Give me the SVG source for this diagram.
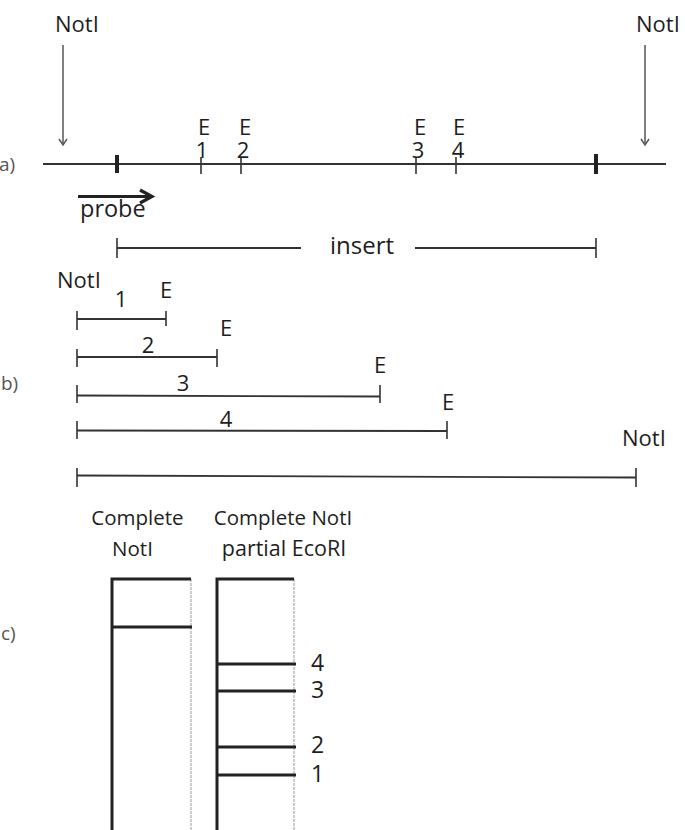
<svg xmlns="http://www.w3.org/2000/svg" width="685" height="830" viewBox="0 0 685 830">
<style>
text{font-family:"Open Sans","Noto Sans",sans-serif;fill:#1e1e1e;font-size:22px}
.lab{fill:#555;font-size:19px}
.c{text-anchor:middle}
.ln{stroke:#333;stroke-width:1.8;fill:none}
.tk{stroke:#333;stroke-width:1.6}
.thk{stroke:#222;stroke-width:4}
.ar{stroke:#555;stroke-width:1.5;fill:none}
.gel{stroke:#222;stroke-width:3;fill:none}
.gelr{stroke:#999;stroke-width:1;stroke-dasharray:3 1;fill:none}
.g{font-size:20.5px}
</style>
<g id="labels">
<text class="lab" x="-1" y="171">a)</text>
<text class="lab" x="1" y="390">b)</text>
<text class="lab" x="1" y="640">c)</text>
</g>
<g id="panel-a">
<g id="notI-left">
<text x="55" y="32">NotI</text>
<line class="ar" x1="63" y1="45" x2="63" y2="145"/>
<path d="M59,139 L63,145 L67,139" class="ar"/>
</g>
<g id="notI-right">
<text x="636" y="32">NotI</text>
<line class="ar" x1="645" y1="45" x2="645" y2="145"/>
<path d="M641,139 L645,145 L649,139" class="ar"/>
</g>
<g id="map">
<line class="ln" x1="43" y1="164" x2="666" y2="164"/>
<line class="thk" x1="117" y1="155" x2="117" y2="173"/>
<line class="thk" x1="596" y1="154" x2="596" y2="174"/>
</g>
<g id="E1"><line class="tk" x1="201" y1="157" x2="201" y2="174"/><text class="c"><tspan x="204" y="135">E</tspan><tspan x="202" y="158">1</tspan></text></g>
<g id="E2"><line class="tk" x1="241" y1="157" x2="241" y2="174"/><text class="c"><tspan x="245" y="135">E</tspan><tspan x="243" y="158">2</tspan></text></g>
<g id="E3"><line class="tk" x1="416" y1="157" x2="416" y2="174"/><text class="c"><tspan x="420" y="135">E</tspan><tspan x="418" y="158">3</tspan></text></g>
<g id="E4"><line class="tk" x1="456" y1="157" x2="456" y2="174"/><text class="c"><tspan x="459" y="135">E</tspan><tspan x="458" y="158">4</tspan></text></g>
<g id="probe">
<line x1="78" y1="196.5" x2="151" y2="196.5" stroke="#222" stroke-width="3.2"/>
<path d="M140,190 L152,196.5 L140,203" stroke="#222" stroke-width="3.2" fill="none"/>
<text x="80" y="217" style="font-size:23.5px">probe</text>
</g>
<g id="insert">
<line class="ln" x1="117" y1="248" x2="301" y2="248"/>
<line class="ln" x1="415" y1="248" x2="596" y2="248"/>
<line class="tk" x1="117" y1="238" x2="117" y2="258"/>
<line class="tk" x1="596" y1="238" x2="596" y2="258"/>
<text x="330" y="254" style="font-size:24px">insert</text>
</g>
</g>
<g id="panel-b">
<text x="57" y="288">NotI</text>
<g id="frag1"><line class="ln" x1="77" y1="319" x2="166" y2="319"/><line class="tk" x1="77" y1="311" x2="77" y2="330"/><line class="tk" x1="166" y1="311" x2="166" y2="326"/><text class="c" x="121" y="307">1</text><text class="c" x="166" y="298">E</text></g>
<g id="frag2"><line class="ln" x1="77" y1="357" x2="217" y2="357"/><line class="tk" x1="77" y1="349" x2="77" y2="367"/><line class="tk" x1="217" y1="349" x2="217" y2="367"/><text class="c" x="148" y="353">2</text><text class="c" x="226" y="336">E</text></g>
<g id="frag3"><line class="ln" x1="77" y1="395.5" x2="380" y2="396.5"/><line class="tk" x1="77" y1="385" x2="77" y2="403"/><line class="tk" x1="380" y1="385" x2="380" y2="403"/><text class="c" x="183" y="391">3</text><text class="c" x="380" y="373">E</text></g>
<g id="frag4"><line class="ln" x1="77" y1="430.5" x2="447" y2="431"/><line class="tk" x1="77" y1="421" x2="77" y2="439"/><line class="tk" x1="447" y1="421" x2="447" y2="439"/><text class="c" x="226" y="427">4</text><text class="c" x="448" y="410">E</text></g>
<g id="frag5"><line class="ln" x1="77" y1="475.5" x2="636" y2="477.5"/><line class="tk" x1="77" y1="468" x2="77" y2="487"/><line class="tk" x1="636" y1="468" x2="636" y2="487"/><text x="622" y="446">NotI</text></g>
</g>
<g id="panel-c">
<g id="lane1">
<text class="c g" x="137.5" y="525">Complete</text>
<text class="c g" x="132.5" y="556">NotI</text>
<line class="gelr" x1="191" y1="579" x2="191" y2="830"/>
<path class="gel" d="M112,830 L112,579 L191,579"/>
<line class="gel" x1="112" y1="627" x2="192" y2="627"/>
</g>
<g id="lane2">
<text class="c g" x="283" y="525">Complete NotI</text>
<text class="c g" x="284" y="556" style="font-size:21.5px">partial EcoRI</text>
<line class="gelr" x1="294" y1="579" x2="294" y2="830"/>
<path class="gel" d="M217,830 L217,579 L294,579"/>
<line class="gel" x1="217" y1="664" x2="296" y2="664"/>
<line class="gel" x1="217" y1="691" x2="296" y2="691"/>
<line class="gel" x1="217" y1="747" x2="296" y2="747"/>
<line class="gel" x1="217" y1="775" x2="296" y2="775"/>
<text x="311" y="671" style="font-size:23px">4</text>
<text x="311" y="698" style="font-size:23px">3</text>
<text x="311" y="753" style="font-size:23px">2</text>
<text x="311" y="782" style="font-size:23px">1</text>
</g>
</g>
</svg>
